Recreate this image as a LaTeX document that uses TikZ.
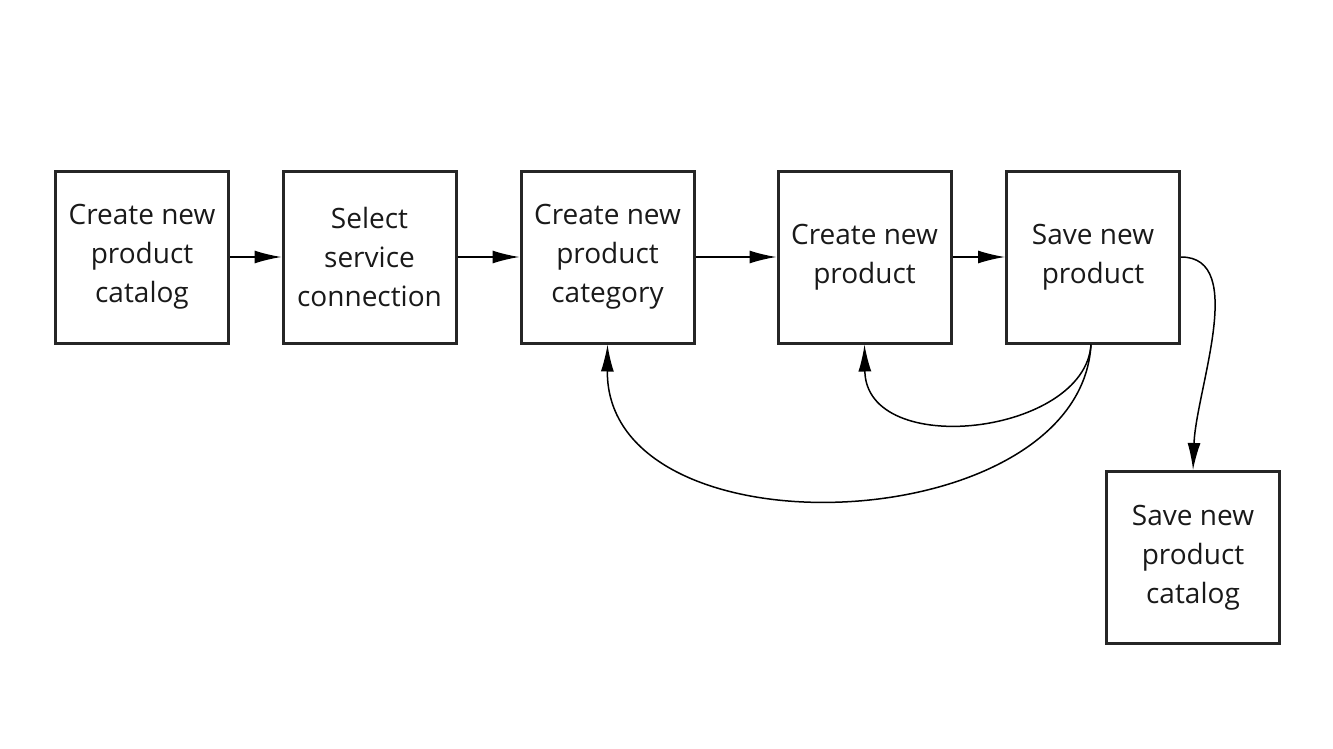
\documentclass[tikz,border=0pt]{standalone}
\usepackage{fontspec}
\setmainfont{Open Sans}
\usetikzlibrary{arrows.meta}
\begin{document}
\begin{tikzpicture}[x=1pt,y=-1pt,
  box/.style={draw=black!85,line width=3pt,minimum width=173pt,minimum height=172pt,align=center,inner sep=0pt,font=\fontsize{28}{39}\selectfont,text=black!90},
  conn/.style={line width=1.5pt,-{Latex[length=27pt,width=13pt]}}]
\useasboundingbox (0,0) rectangle (1333,749);
\node[box] (a) at (142,257) {Create new\\product\\catalog};
\node[box] (b) at (369.5,257) {Select\\service\\connection};
\node[box] (c) at (607.5,257) {Create new\\product\\category};
\node[box] (d) at (864.5,257) {Create new\\product};
\node[box] (e) at (1093,257) {Save new\\product};
\node[box] (f) at (1193,557.5) {Save new\\product\\catalog};
\draw[conn] (a.east) -- (b.west);
\draw[conn] (b.east) -- (c.west);
\draw[conn] (c.east) -- (d.west);
\draw[conn] (d.east) -- (e.west);
\draw[conn] (e.east) .. controls (1248,257) and (1196,390) .. (f.north);
\draw[conn] ([xshift=-2pt]e.south) .. controls (1085,435) and (866,460) .. (d.south);
\draw[conn] ([xshift=-2pt]e.south) .. controls (1080,540) and (606,560) .. (c.south);
\end{tikzpicture}
\end{document}
